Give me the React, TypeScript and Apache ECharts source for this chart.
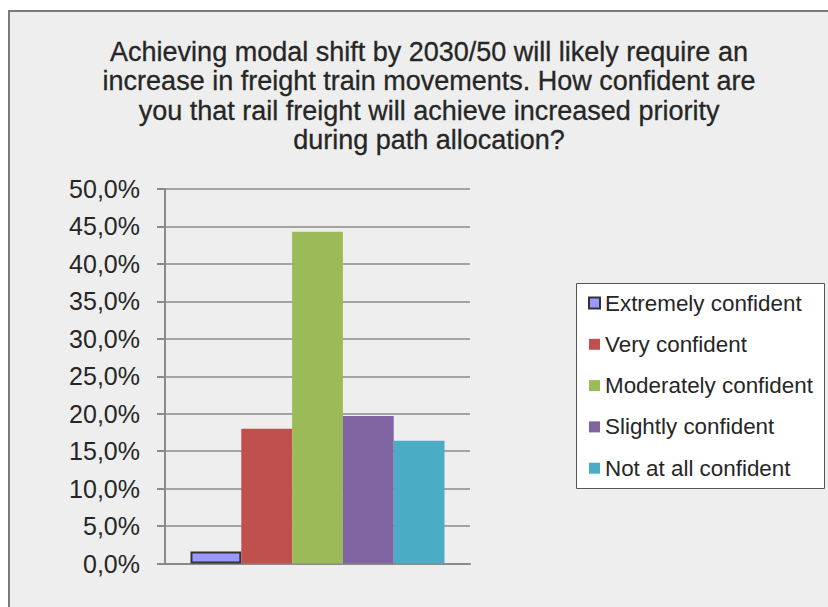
import React, { useEffect, useRef } from "react";
import * as echarts from "echarts";

const titleLines = [
  "Achieving modal shift by 2030/50 will likely require an",
  "increase in freight train movements. How confident are",
  "you that rail freight will achieve increased priority",
  "during path allocation?",
];
const seriesNames = [
  "Extremely confident",
  "Very confident",
  "Moderately confident",
  "Slightly confident",
  "Not at all confident",
];
const seriesValues = [1.6, 18.0, 44.3, 19.7, 16.4];
const seriesColors = ["#9999ff", "#c0504d", "#9bbb59", "#8064a2", "#4bacc6"];
const categories = [""];

const FONT = "'Liberation Sans', Arial, sans-serif";
const TEXT_COLOR = "#262626";

export default function App() {
  const ref = useRef<HTMLDivElement>(null);
  useEffect(() => {
    if (!ref.current) return;
    const chart = echarts.init(ref.current, undefined, { renderer: "svg" });
    const gridColor = "#8a8a8a";
    chart.setOption({
      animation: false,
      backgroundColor: "#ffffff",
      textStyle: { fontFamily: FONT },
      graphic: [
        {
          type: "rect",
          z: -10,
          silent: true,
          shape: { x: 9, y: 11, width: 900, height: 700 },
          style: { fill: "#eeeeee", stroke: "#7a7a7a", lineWidth: 2 },
        },
        {
          type: "rect",
          z: -5,
          silent: true,
          shape: { x: 576.5, y: 283.5, width: 248, height: 205 },
          style: { fill: "#ffffff", stroke: "#555555", lineWidth: 1 },
        },
      ],
      title: {
        text: titleLines.join("\n"),
        left: 429,
        top: 37,
        padding: 0,
        textAlign: "center",
        textStyle: {
          fontFamily: FONT,
          fontSize: 27,
          lineHeight: 29.5,
          fontWeight: "normal",
          color: TEXT_COLOR,
          textBorderColor: TEXT_COLOR,
          textBorderWidth: 0.3,
        },
      },
      legend: {
        orient: "vertical",
        left: 588,
        top: 292,
        padding: 0,
        itemWidth: 11,
        itemHeight: 11,
        itemGap: 19.3,
        itemTextGap: 7,
        icon: "rect",
        data: seriesNames,
        textStyle: {
          fontFamily: FONT,
          fontSize: 22.4,
          lineHeight: 22,
          color: TEXT_COLOR,
        },
      },
      grid: { left: 165, right: 358, top: 189, bottom: 43.5, containLabel: false },
      xAxis: {
        type: "category",
        data: categories,
        axisLine: { show: true, lineStyle: { color: gridColor, width: 2 } },
        axisTick: { show: false },
        axisLabel: { show: false },
      },
      yAxis: {
        type: "value",
        min: 0,
        max: 50,
        interval: 5,
        axisLine: { show: true, lineStyle: { color: gridColor, width: 2 } },
        axisTick: { show: true, length: 8, lineStyle: { color: gridColor, width: 2 } },
        splitLine: { show: true, lineStyle: { color: gridColor, width: 1.5 } },
        axisLabel: {
          margin: 25,
          fontFamily: FONT,
          fontSize: 25,
          color: TEXT_COLOR,
          formatter: (v: number) => v.toFixed(1).replace(".", ",") + "%",
        },
      },
      series: seriesNames.map((name, i) => ({
        name,
        type: "bar",
        data: [seriesValues[i]],
        barWidth: 50.8,
        barGap: "0%",
        itemStyle:
          i === 0
            ? { color: seriesColors[i], borderColor: "#333333", borderWidth: 2 }
            : { color: seriesColors[i] },
      })),
    });
    return () => chart.dispose();
  }, []);
  return (
    <div
      ref={ref}
      style={{ position: "fixed", left: 0, top: 0, width: 828, height: 607 }}
    />
  );
}
